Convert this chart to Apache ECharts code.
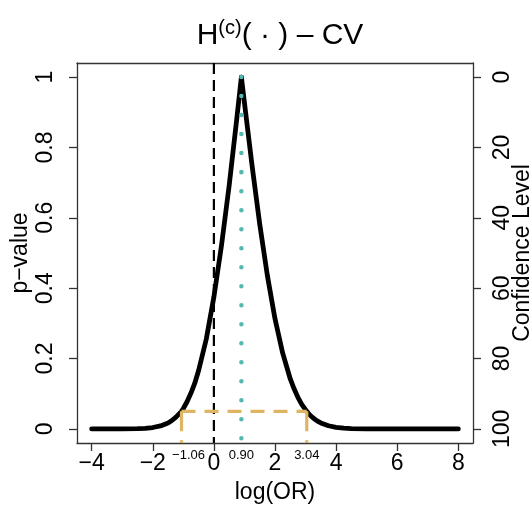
<!DOCTYPE html>
<html><head><meta charset="utf-8">
<script src="https://cdn.jsdelivr.net/npm/echarts@6/dist/echarts.min.js"></script>
<style>html,body{margin:0;padding:0;background:#fff}#c{width:532px;height:506px}</style>
</head><body><div id="c"></div>
<script>
// p-value function
const curveLeftX = [-4, -3.5, -3, -2.5, -2.25, -2, -1.75, -1.5, -1.375, -1.25, -1.06, -1, -0.875, -0.75, -0.625, -0.5, -0.25, 0, 0.25, 0.5, 0.75, 0.9];
const curveLeftP = [0, 0, 0.0001, 0.0008, 0.0018, 0.004, 0.0085, 0.017, 0.024, 0.033, 0.05, 0.058, 0.078, 0.102, 0.13, 0.166, 0.255, 0.375, 0.522, 0.692, 0.882, 1.0];
const curveRightX = [0.9, 1.0, 1.25, 1.5, 1.75, 2.0, 2.25, 2.5, 2.625, 2.75, 2.875, 3.04, 3.125, 3.25, 3.375, 3.5, 3.75, 4, 4.25, 4.5, 5, 6, 7, 8];
const curveRightP = [1.0, 0.927, 0.748, 0.582, 0.436, 0.313, 0.216, 0.142, 0.114, 0.0897, 0.070, 0.05, 0.041, 0.031, 0.023, 0.017, 0.009, 0.0045, 0.0021, 0.001, 0.0002, 0, 0, 0];
const estimate = 0.90;
const ciLow = -1.06;
const ciHigh = 3.04;
const alphaLevel = 0.05;
const nullValue = 0;
const ciLabels = ['\u22121.06', '0.90', '3.04'];
const xTicks = [-4, -2, 0, 2, 4, 6, 8];
const xTickLabels = ['\u22124', '\u22122', '0', '2', '4', '6', '8'];
const yTicks = [0, 0.2, 0.4, 0.6, 0.8, 1];
const yTickLabels = ['0', '0.2', '0.4', '0.6', '0.8', '1'];
const confTicks = [0, 20, 40, 60, 80, 100];
const confTickLabels = ['0', '20', '40', '60', '80', '100'];

const FONT = 'Liberation Sans, Arial, Helvetica, sans-serif';
const XMIN = -4.48, XMAX = 8.48, YMIN = -0.04, YMAX = 1.04;
const axisCol = '#333';
const teal = '#55B8AF';
const gold = '#DFB563';

function zip(a, b) { return a.map((v, i) => [v, b[i]]); }
function lookup(vals, labels) { return v => { const i = vals.findIndex(t => Math.abs(t - v) < 1e-9); return i >= 0 ? labels[i] : ''; }; }
const goldStyle = {color: gold, width: 3.2, type: [14, 9]};

const chart = echarts.init(document.getElementById('c'), null, {renderer: 'canvas'});
chart.setOption({
  animation: false,
  backgroundColor: '#fff',
  title: {
    text: '{a|H}{s|(c)}{a|( \u00B7 ) \u2013 CV}',
    left: 275, top: 13, textAlign: 'center',
    textStyle: {
      fontWeight: 'normal',
      rich: {
        a: {fontSize: 30, fontFamily: FONT, color: '#000', fontWeight: 'normal'},
        s: {fontSize: 20, fontFamily: FONT, color: '#000', fontWeight: 'normal', padding: [0, 0, 15, 0]}
      }
    }
  },
  grid: {left: 77, right: 59, top: 63, bottom: 63, containLabel: false, outerBoundsMode: 'none'},
  xAxis: [
    {type: 'value', min: XMIN, max: XMAX, position: 'bottom',
     name: 'log(OR)', nameLocation: 'middle', nameGap: 38, nameMoveOverlap: false,
     nameTextStyle: {fontSize: 23, fontFamily: FONT, color: '#000'},
     axisLine: {show: true, onZero: false, lineStyle: {color: axisCol, width: 1.3}},
     axisTick: {show: true, customValues: xTicks, length: 8, lineStyle: {color: axisCol, width: 1.3}},
     axisLabel: {customValues: xTicks, formatter: lookup(xTicks, xTickLabels), fontSize: 23, fontFamily: FONT, color: '#000', margin: 9},
     splitLine: {show: false}},
    {type: 'value', min: XMIN, max: XMAX, position: 'top',
     axisLine: {show: true, onZero: false, lineStyle: {color: axisCol, width: 1.3}},
     axisTick: {show: false}, axisLabel: {show: false}, splitLine: {show: false}},
    {type: 'value', min: XMIN, max: XMAX, position: 'bottom',
     axisLine: {show: false, onZero: false}, axisTick: {show: false}, splitLine: {show: false},
     axisLabel: {customValues: [ciLow, estimate, ciHigh], fontSize: 13, fontFamily: FONT, color: '#000', margin: 6,
       formatter: v => { const s = lookup([ciLow, estimate, ciHigh], ciLabels)(v); return Math.abs(v - ciLow) < 1e-9 ? '{l|' + s + '}' : s; },
       rich: {l: {fontSize: 13, fontFamily: FONT, color: '#000', padding: [0, 0, 0, 14]}}}}
  ],
  yAxis: [
    {type: 'value', min: YMIN, max: YMAX, position: 'left',
     name: 'p\u2212value', nameLocation: 'middle', nameGap: 45, nameRotate: 90, nameMoveOverlap: false,
     nameTextStyle: {fontSize: 23, fontFamily: FONT, color: '#000'},
     axisLine: {show: true, onZero: false, lineStyle: {color: axisCol, width: 1.3}},
     axisTick: {show: true, customValues: yTicks, length: 8, lineStyle: {color: axisCol, width: 1.3}},
     axisLabel: {customValues: yTicks, formatter: lookup(yTicks, yTickLabels), rotate: 90, fontSize: 23, fontFamily: FONT, color: '#000', margin: 20},
     splitLine: {show: false}},
    {type: 'value', min: -4, max: 104, inverse: true, position: 'right',
     name: 'Confidence Level', nameLocation: 'middle', nameGap: 38, nameRotate: 90, nameMoveOverlap: false,
     nameTextStyle: {fontSize: 23, fontFamily: FONT, color: '#000'},
     axisLine: {show: true, onZero: false, lineStyle: {color: axisCol, width: 1.3}},
     axisTick: {show: true, customValues: confTicks, length: 8, lineStyle: {color: axisCol, width: 1.3}},
     axisLabel: {customValues: confTicks, formatter: lookup(confTicks, confTickLabels), rotate: 90, fontSize: 23, fontFamily: FONT, color: '#000', margin: 18},
     splitLine: {show: false}}
  ],
  series: [
    {type: 'line', xAxisIndex: 0, yAxisIndex: 0, data: zip(curveLeftX, curveLeftP), showSymbol: false, symbol: 'none',
     smooth: false, lineStyle: {color: '#000', width: 4.8, cap: 'round', join: 'round'}, z: 2},
    {type: 'line', xAxisIndex: 0, yAxisIndex: 0, data: zip(curveRightX, curveRightP), showSymbol: false, symbol: 'none',
     smooth: false, lineStyle: {color: '#000', width: 4.8, cap: 'round', join: 'round'}, z: 2},
    {type: 'line', xAxisIndex: 0, yAxisIndex: 0, data: [[nullValue, YMAX], [nullValue, YMIN]], symbol: 'none',
     lineStyle: {color: '#000', width: 2.2, type: [11, 6]}, z: 3},
    {type: 'line', xAxisIndex: 0, yAxisIndex: 0, data: [[ciLow, alphaLevel], [ciHigh, alphaLevel]], symbol: 'none',
     lineStyle: goldStyle, z: 4},
    {type: 'line', xAxisIndex: 0, yAxisIndex: 0, data: [[ciLow, alphaLevel], [ciLow, YMIN]], symbol: 'none',
     lineStyle: {color: gold, width: 3.2, type: [20, 9]}, z: 4},
    {type: 'line', xAxisIndex: 0, yAxisIndex: 0, data: [[ciHigh, alphaLevel], [ciHigh, YMIN]], symbol: 'none',
     lineStyle: {color: gold, width: 3.2, type: [20, 9]}, z: 4},
    {type: 'line', xAxisIndex: 0, yAxisIndex: 0, data: [[estimate, 1], [estimate, YMIN]], symbol: 'none',
     lineStyle: {color: teal, width: 4.5, type: [0.01, 19], cap: 'round'}, z: 5}
  ]
});
</script>
</body></html>
